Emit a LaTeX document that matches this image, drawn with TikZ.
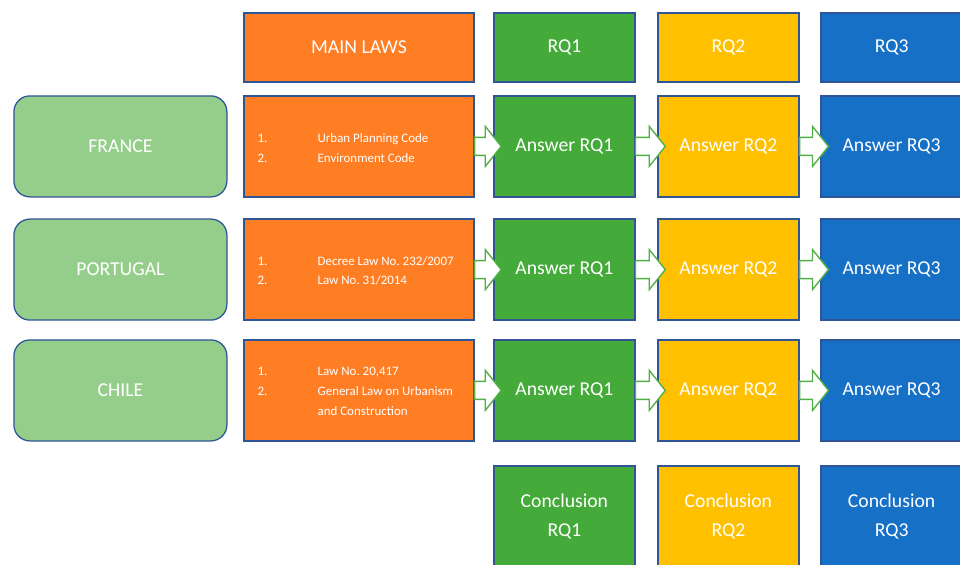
\documentclass[tikz,border=0pt]{standalone}
\usepackage{fontspec}
\setmainfont{Carlito}
\usetikzlibrary{calc}
\frenchspacing

\definecolor{edgeblue}{RGB}{47,85,151}
\definecolor{countrygreen}{RGB}{148,206,138}
\definecolor{laworange}{RGB}{255,125,35}
\definecolor{rqgreen}{RGB}{68,170,58}
\definecolor{rqyellow}{RGB}{255,192,0}
\definecolor{rqblue}{RGB}{22,112,198}
\definecolor{arrowgreen}{RGB}{80,176,70}

% hollow block arrow from the east side of #1 into the west side of #2
\newcommand{\blockarrow}[2]{%
  \draw[blockarrow] ($(#1.east)+(0,0.225)$) -- ($(#2.west)+(-0.2,0.225)$)
    -- ($(#2.west)+(-0.2,0.5)$) -- ($(#2.west)+(0.2,0)$)
    -- ($(#2.west)+(-0.2,-0.5)$) -- ($(#2.west)+(-0.2,-0.225)$)
    -- ($(#1.east)+(0,-0.225)$) -- cycle;}

% numbered entry of a law list
\newcommand{\lawitem}[2]{\makebox[1.5cm][l]{#1}#2}

\begin{document}
\begin{tikzpicture}
% --- Global Styles ---
\tikzstyle{box} = [draw=edgeblue, line width=0.9pt, text=white, align=center, inner sep=0pt, font=\fontsize{14}{21}\selectfont]
\tikzstyle{country} = [box, fill=countrygreen, rounded corners=0.4cm, minimum width=5.325cm, minimum height=2.525cm]
\tikzstyle{laws} = [box, fill=laworange, minimum width=5.75cm, minimum height=2.525cm]
\tikzstyle{lawtext} = [anchor=west, text=white, align=left, inner sep=0pt, font=\fontsize{9.2}{14.2}\selectfont]
\tikzstyle{rq} = [box, minimum width=3.525cm, minimum height=2.525cm]
\tikzstyle{head} = [minimum height=1.725cm]
\tikzstyle{blockarrow} = [draw=arrowgreen, fill=white, line width=1pt, line join=miter]

\useasboundingbox (0,0) rectangle (24,-14.125);
\clip (0,0) rectangle (24,-14.125);

% --- Column Centres ---
\def\xc{3.01}    % countries
\def\xl{8.975}   % main laws
\def\xqa{14.11}  % RQ1
\def\xqb{18.21}  % RQ2
\def\xqc{22.29}  % RQ3

% --- Row Centres ---
\def\yh{-1.19}   % header
\def\yfr{-3.66}  % France
\def\ypt{-6.74}  % Portugal
\def\ycl{-9.76}  % Chile
\def\yco{-12.91} % conclusions

% ==========================================
% HEADER ROW
% ==========================================
\node[laws, head] (mainlaws) at (\xl,\yh) {MAIN LAWS};
\node[rq, head, fill=rqgreen] (headone) at (\xqa,\yh) {RQ1};
\node[rq, head, fill=rqyellow] (headtwo) at (\xqb,\yh) {RQ2};
\node[rq, head, fill=rqblue] (headthree) at (\xqc,\yh) {RQ3};

% ==========================================
% COUNTRIES AND THEIR LAWS
% ==========================================
\node[country] (france) at (\xc,\yfr) {FRANCE};
\node[country] (portugal) at (\xc,\ypt) {PORTUGAL};
\node[country] (chile) at (\xc,\ycl) {CHILE};

\node[laws] (lawfr) at (\xl,\yfr) {};
\node[laws] (lawpt) at (\xl,\ypt) {};
\node[laws] (lawcl) at (\xl,\ycl) {};

\node[lawtext] (listfr) at ($(lawfr.west)+(0.35,-0.03)$) {\lawitem{1.}{Urban Planning Code}\\\lawitem{2.}{Environment Code}};
\node[lawtext] (listpt) at ($(lawpt.west)+(0.35,-0.03)$) {\lawitem{1.}{Decree Law No. 232/2007}\\\lawitem{2.}{Law No. 31/2014}};
\node[lawtext] (listcl) at ($(lawcl.west)+(0.35,-0.03)$) {\lawitem{1.}{Law No. 20,417}\\\lawitem{2.}{General Law on Urbanism}\\\lawitem{}{and Construction}};

% ==========================================
% ANSWERS PER COUNTRY
% ==========================================
\foreach \yy/\rw in {\yfr/fr, \ypt/pt, \ycl/cl} {
  \node[rq, fill=rqgreen] (ansone\rw) at (\xqa,\yy) {Answer RQ1};
  \node[rq, fill=rqyellow] (anstwo\rw) at (\xqb,\yy) {Answer RQ2};
  \node[rq, fill=rqblue] (ansthree\rw) at (\xqc,\yy) {Answer RQ3};
  \blockarrow{law\rw}{ansone\rw}
  \blockarrow{ansone\rw}{anstwo\rw}
  \blockarrow{anstwo\rw}{ansthree\rw}
}

% ==========================================
% CONCLUSIONS
% ==========================================
\node[rq, fill=rqgreen] (concone) at (\xqa,\yco) {Conclusion\\RQ1};
\node[rq, fill=rqyellow] (conctwo) at (\xqb,\yco) {Conclusion\\RQ2};
\node[rq, fill=rqblue] (concthree) at (\xqc,\yco) {Conclusion\\RQ3};

\end{tikzpicture}
\end{document}
